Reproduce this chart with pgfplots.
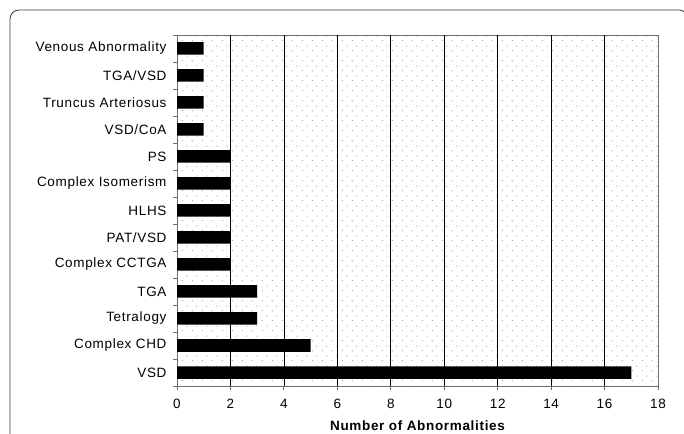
\documentclass[border=0pt]{standalone}
\usepackage{fontspec}
\setmainfont{Liberation Sans}[LetterSpace=5]
\usepackage{pgfplots}
\pgfplotsset{compat=1.18}
\usetikzlibrary{patterns}

% sparse staggered dot fill of the plot area
\pgfdeclarepatternformonly{sparsedots}{\pgfpointorigin}{\pgfqpoint{10pt}{10pt}}{\pgfqpoint{10pt}{10pt}}{%
  \pgfpathrectangle{\pgfqpoint{2pt}{2pt}}{\pgfqpoint{1.1pt}{1.1pt}}%
  \pgfpathrectangle{\pgfqpoint{7pt}{7pt}}{\pgfqpoint{1.1pt}{1.1pt}}%
  \pgfusepath{fill}}

\definecolor{frame}{RGB}{60,60,60}
\definecolor{axisgray}{RGB}{110,110,110}

\begin{document}
\begin{tikzpicture}[font=\fontsize{13.5}{16}\selectfont]
\path[use as bounding box] (0,0) rectangle (684pt,433pt);
\draw[frame, line width=0.8pt, rounded corners=9pt] (10pt,-5pt) -- (10pt,423pt) -- (688pt,423pt) -- (688pt,-5pt);
\begin{axis}[
    at={(177pt,47pt)}, anchor=south west,
    scale only axis,
    width=481pt, height=351pt,
    xbar, bar width=12.5pt,
    xmin=0, xmax=18,
    ymin=-0.5, ymax=12.5,
    xtick={0,2,...,18},
    xtick pos=bottom, ytick pos=left,
    ytick={0,...,12},
    yticklabels={VSD, Complex CHD, Tetralogy, TGA, Complex CCTGA, PAT/VSD, HLHS,
                 Complex Isomerism, PS, VSD/CoA, Truncus Arteriosus, TGA/VSD, Venous Abnormality},
    major y tick style={draw=none},
    minor ytick={-0.5,0.5,...,12.5},
    tick align=outside,
    major tick length=4pt, minor tick length=4pt,
    tick style={axisgray, line width=0.8pt},
    extra x ticks={2,4,...,16},
    extra x tick labels={},
    extra x tick style={grid=major, major tick length=0pt},
    grid style={black, line width=0.7pt},
    axis line style={axisgray, line width=0.8pt},
    axis background/.style={fill=white, postaction={pattern=sparsedots, pattern color=gray!65}},
    /pgf/number format/assume math mode=true,
    yticklabel style={xshift=-3pt},
    xticklabel style={yshift=-6pt},
    xlabel={\bfseries Number of Abnormalities},
    xlabel style={yshift=-1pt},
]
\addplot[fill=black, draw=none] coordinates {
    (17,0) (5,1) (3,2) (3,3) (2,4) (2,5) (2,6) (2,7) (2,8) (1,9) (1,10) (1,11) (1,12)
};
\end{axis}
\end{tikzpicture}
\end{document}
